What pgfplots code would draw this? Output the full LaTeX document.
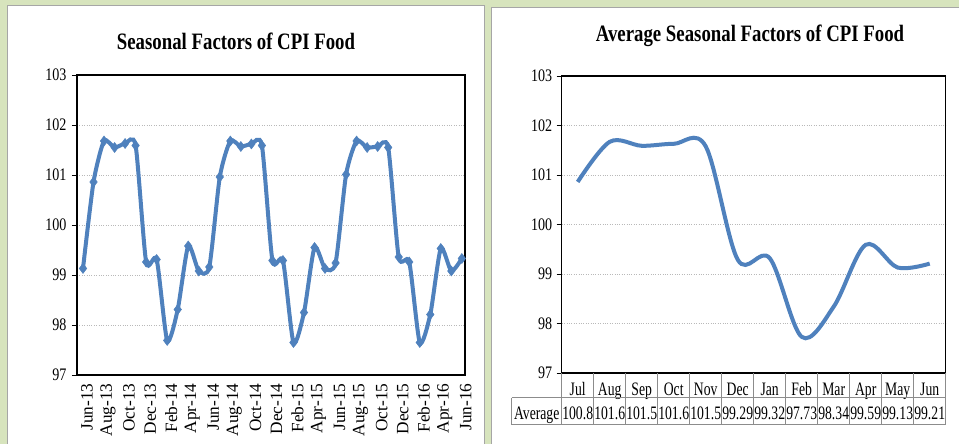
\documentclass[border=0pt]{standalone}
\usepackage{pgfplots}
\pgfplotsset{compat=1.18}
\usepackage{pgfplotstable}
\usepackage{fontspec}
\setmainfont{Liberation Serif}[FakeStretch=0.8]
\newfontfamily\rotfont{Liberation Serif}
\newfontfamily\tabfont{Liberation Serif}[FakeStretch=0.72]
\definecolor{bg}{HTML}{D7E4BD}
\definecolor{xlblue}{HTML}{4F81BD}
\definecolor{panelgray}{HTML}{A6A6A6}
\definecolor{tabgray}{HTML}{8C8C8C}

\pgfplotstableread{
x y
0 99.13
1 100.86
2 101.68
3 101.55
4 101.63
5 101.59
6 99.26
7 99.31
8 97.69
9 98.31
10 99.58
11 99.08
12 99.16
13 100.96
14 101.68
15 101.57
16 101.62
17 101.59
18 99.29
19 99.29
20 97.65
21 98.25
22 99.55
23 99.13
24 99.24
25 101.01
26 101.68
27 101.55
28 101.57
29 101.55
30 99.36
31 99.26
32 97.65
33 98.21
34 99.53
35 99.08
36 99.33
}\monthly

\pgfplotstableread{
x y
0 100.86
1 101.67
2 101.59
3 101.63
4 101.58
5 99.29
6 99.32
7 97.73
8 98.34
9 99.59
10 99.13
11 99.21
}\average

\begin{document}
\begin{tikzpicture}[x=1pt,y=1pt]
\useasboundingbox (0,0) rectangle (959,444);
\fill[bg] (0,0) rectangle (959,444);
\filldraw[fill=white, draw=panelgray, line width=0.8pt] (7,-3) rectangle (484,439);
\filldraw[fill=white, draw=panelgray, line width=0.8pt] (491,-3) rectangle (963,437);
\node[font=\fontsize{23.5}{26}\selectfont\bfseries] at (236,403) {Seasonal Factors of CPI Food};
\node[font=\fontsize{23.5}{26}\selectfont\bfseries] at (750,408) {Average Seasonal Factors of CPI Food};

\begin{axis}[
  at={(77pt,69pt)}, anchor=south west, scale only axis,
  width=388pt, height=300pt,
  xmin=-0.57, xmax=36.3, ymin=97, ymax=103,
  ytick={97,98,...,103}, xtick={0,2,...,36},
  xticklabels={Jun-13,Aug-13,Oct-13,Dec-13,Feb-14,Apr-14,Jun-14,Aug-14,Oct-14,Dec-14,Feb-15,Apr-15,Jun-15,Aug-15,Oct-15,Dec-15,Feb-16,Apr-16,Jun-16},
  ymajorgrids, grid style={gray!55, dotted, line width=0.8pt},
  axis line style={black, line width=1.1pt},
  tick align=outside, tick pos=left,
  major tick length=5pt,
  x tick style={draw=none}, y tick style={black, line width=0.8pt},
  /pgf/number format/assume math mode=true,
  yticklabel style={font=\fontsize{17.6}{18}\selectfont, xshift=-2pt},
  xticklabel style={font=\rotfont\fontsize{17.3}{18}\selectfont, rotate=90, anchor=east, yshift=-4pt},
]
\addplot[xlblue, line width=4pt, smooth, tension=0.4, mark=diamond*, mark size=5pt, mark options={solid, line width=0.5pt, fill=xlblue}] table {\monthly};
\end{axis}

\begin{axis}[
  at={(561.7pt,71pt)}, anchor=south west, scale only axis,
  width=384pt, height=297pt,
  xmin=-0.5, xmax=11.5, ymin=97, ymax=103,
  ytick={97,98,...,103}, xtick={0,1,...,11},
  xticklabels={Jul,Aug,Sep,Oct,Nov,Dec,Jan,Feb,Mar,Apr,May,Jun},
  ymajorgrids, grid style={gray!55, dotted, line width=0.8pt},
  axis line style={black, line width=1.1pt},
  tick align=outside, tick pos=left,
  major tick length=5pt,
  x tick style={draw=none}, y tick style={black, line width=0.8pt},
  /pgf/number format/assume math mode=true,
  yticklabel style={font=\fontsize{17.6}{18}\selectfont, xshift=-1pt},
  xticklabel style={font=\tabfont\fontsize{19}{20}\selectfont, anchor=base, yshift=-18pt},
]
\addplot[xlblue, line width=4pt, smooth, tension=0.55, mark=none] table {\average};
\end{axis}

% data table under the right chart
\begin{scope}[draw=tabgray, line width=1pt]
\draw (511.7,46) -- (945.7,46);
\draw (511.7,19) -- (945.7,19);
\draw (511.7,46) -- (511.7,19);
\foreach \k in {0,...,12} { \draw (561.7+32*\k,71) -- (561.7+32*\k,19); }
\end{scope}
\begin{scope}[every node/.style={font=\tabfont\fontsize{19}{20}\selectfont, anchor=base, inner sep=0pt}]
\node at (536.7,24) {Average};
\node at (577.7,24) {100.8};
\node at (609.7,24) {101.6};
\node at (641.7,24) {101.5};
\node at (673.7,24) {101.6};
\node at (705.7,24) {101.5};
\node at (737.7,24) {99.29};
\node at (769.7,24) {99.32};
\node at (801.7,24) {97.73};
\node at (833.7,24) {98.34};
\node at (865.7,24) {99.59};
\node at (897.7,24) {99.13};
\node at (929.7,24) {99.21};
\end{scope}
\end{tikzpicture}
\end{document}
